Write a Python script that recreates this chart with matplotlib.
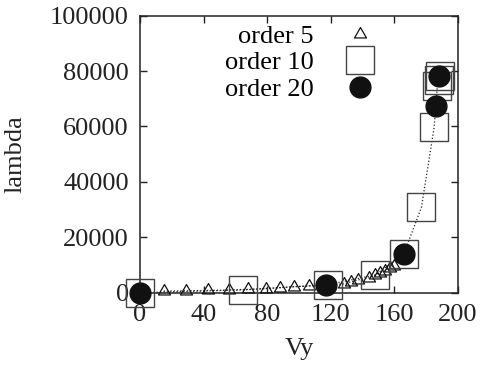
import matplotlib
matplotlib.use("Agg")
import matplotlib.pyplot as plt
from matplotlib.path import Path

# Order-5 solution
vy_order5 = [15, 29, 43, 56, 68, 79, 88, 97, 106, 117, 128, 133, 137, 144, 148, 151, 154, 157, 160]
lambda_order5 = [600, 700, 800, 1000, 1200, 1500, 1800, 2200, 2400, 2700, 3200, 4000, 4600,
                 5400, 6300, 7200, 8000, 8900, 9700]

# Order-10 solution
vy_order10 = [0, 65, 118, 148, 166, 177, 185, 187, 188, 188.5]
lambda_order10 = [0, 1000, 2900, 6400, 14100, 30800, 59700, 74500, 76800, 78300]

# Order-20 solution
vy_order20 = [0, 117, 166, 186, 188]
lambda_order20 = [0, 2800, 14000, 67500, 78200]

series_labels = ["order 5", "order 10", "order 20"]
x_ticks = [0, 40, 80, 120, 160, 200]
y_ticks = [0, 20000, 40000, 60000, 80000, 100000]

plt.rcParams["font.family"] = ["Liberation Serif", "DejaVu Serif"]
plt.rcParams["font.size"] = 19

# triangle centred on its centroid, as gnuplot places it
tri = Path([(0, 0.667), (-0.577, -0.333), (0.577, -0.333), (0, 0.667)],
           [Path.MOVETO, Path.LINETO, Path.LINETO, Path.CLOSEPOLY])

fig = plt.figure(figsize=(4.8, 3.73), dpi=100)
ax = fig.add_axes([140 / 480, 1 - 292.7 / 373, 318 / 480, 277 / 373])

ax.plot(vy_order5, lambda_order5, ls=":", lw=0.9, color="#222222", zorder=2)
ax.plot(vy_order10, lambda_order10, ls=":", lw=0.9, color="#222222", zorder=2)

ax.plot(vy_order5, lambda_order5, ls="none", marker=tri, ms=10, mfc="none",
        mec="#111111", mew=0.9, label=series_labels[0], zorder=3, clip_on=False)
ax.plot(vy_order10, lambda_order10, ls="none", marker="s", ms=19.5, mfc="none",
        mec="#444444", mew=1.0, label=series_labels[1], zorder=3, clip_on=False)
ax.plot(vy_order20, lambda_order20, ls="none", marker="o", ms=15, mfc="#111111",
        mec="#111111", label=series_labels[2], zorder=4, clip_on=False)

ax.set_xlim(0, 200)
ax.set_ylim(0, 100000)
ax.set_xticks(x_ticks)
ax.set_yticks(y_ticks)
ax.tick_params(direction="in", top=True, right=True, length=5, width=1,
               pad=8, colors="#222222")
for s in ax.spines.values():
    s.set_linewidth(1.1)
    s.set_color("#222222")

ax.set_xlabel("Vy", labelpad=9, color="#222222")
ax.set_ylabel("lambda", labelpad=17, color="#222222")

leg = ax.legend(loc="upper left", bbox_to_anchor=(0.2, 1.045), markerfirst=False,
                frameon=False, handlelength=1.2, handletextpad=1.15,
                labelspacing=0.12, borderpad=0.3)

fig.savefig("out.png", dpi=100)
